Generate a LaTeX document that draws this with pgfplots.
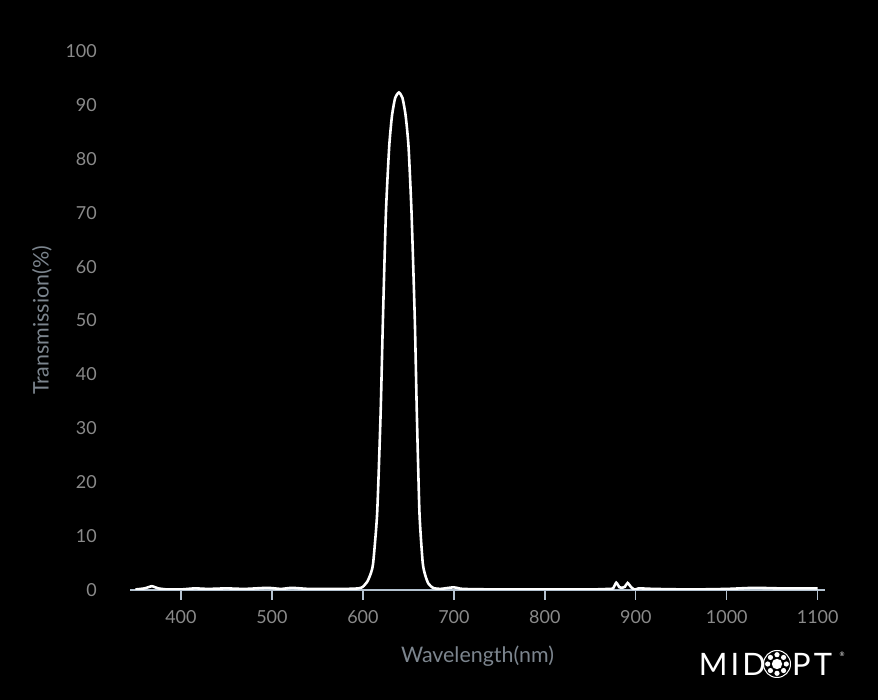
\documentclass[border=0pt]{standalone}
\usepackage{pgfplots}
\pgfplotsset{compat=1.18}
\usetikzlibrary{calc}
\usepackage{fontspec}
\setmainfont{Lato}
\newfontfamily\logofont[LetterSpace=10]{Lato}
\definecolor{axiscol}{HTML}{B4C2D0}
\definecolor{labcol}{HTML}{8A8A8A}
\definecolor{titcol}{HTML}{7C858E}
\begin{document}
\begin{tikzpicture}[x=1bp,y=1bp]
\fill[black] (0,0) rectangle (878,700);
\begin{axis}[
  at={(130bp,110bp)}, anchor=south west,
  scale only axis, width=695bp, height=539bp,
  xmin=344, xmax=1108, ymin=0, ymax=100,
  axis x line=bottom, axis y line=left,
  x axis line style={-, color=axiscol, line width=1.6pt},
  y axis line style={draw=none},
  xtick={400,500,...,1100}, ytick={0,10,...,100},
  xtick align=outside,
  major tick length=10bp,
  x tick style={color=axiscol, line width=1.4pt},
  y tick style={draw=none},
  /pgf/number format/assume math mode=true,
  /pgf/number format/1000 sep={},
  tick label style={font=\fontsize{18}{18}\selectfont, text=labcol, inner sep=0pt},
  xticklabel style={anchor=center, yshift=-17bp},
  yticklabel style={anchor=east, xshift=-28bp},
  xlabel={Wavelength(nm)}, ylabel={Transmission(\%)},
  label style={font=\fontsize{21.5}{22}\selectfont, text=titcol, inner sep=0pt},
  xlabel style={at={(axis description cs:0.5,-0.1224)}, anchor=center},
  ylabel style={at={(axis description cs:-0.1266,0.5)}, anchor=center},
]
\addplot[white, line width=2.6pt, smooth, tension=0.35] coordinates {
(350,0.1) (360,0.3) (368,0.7) (375,0.3) (385,0.1) (400,0.1) (415,0.3) (430,0.2)
(450,0.3) (470,0.2) (495,0.4) (510,0.2) (522,0.4) (540,0.2) (560,0.2) (580,0.2)
(595,0.3) (600,0.6) (605,1.6) (608.5,3.0) (611.3,5) (615.7,14.3) (619.5,32.8) (622,50)
(625.3,69.9) (628.9,82.2) (632,88) (635.5,91.3) (639.6,92.3) (643.5,91.3) (647,88)
(650.2,82.2) (653.5,69.9) (657.1,50) (659.3,32.8) (662.2,14.3) (665.8,5) (668.8,2.6)
(672,1.2) (677,0.4) (685,0.2) (700,0.5) (710,0.2) (750,0.1) (800,0.1) (850,0.1)
(870,0.2) (875,0.3) (878.5,1.35) (882,0.5) (885,0.4) (888,0.6) (891,1.3) (895,0.5)
(899,0.05) (903,0.3) (920,0.2) (960,0.1) (1000,0.2) (1030,0.4) (1060,0.3) (1100,0.3)
};
\end{axis}
% logo
\node[anchor=east, text=white, inner sep=0pt, font=\logofont\fontsize{31}{31}\selectfont] at (766,36) {MID};
\draw[white, line width=1pt] (777,36) circle (13.5);
\fill[white] (777,36) circle (5.2);
\foreach \a in {0,45,...,315} { \fill[white] ($(777,36)+(\a:9.3)$) circle (2.6); }
\node[anchor=west, text=white, inner sep=0pt, font=\logofont\fontsize{31}{31}\selectfont] at (792,36) {PT};
\node[text=white, inner sep=0pt, font=\fontsize{6}{6}\selectfont] at (842,46) {®};
\end{tikzpicture}
\end{document}
